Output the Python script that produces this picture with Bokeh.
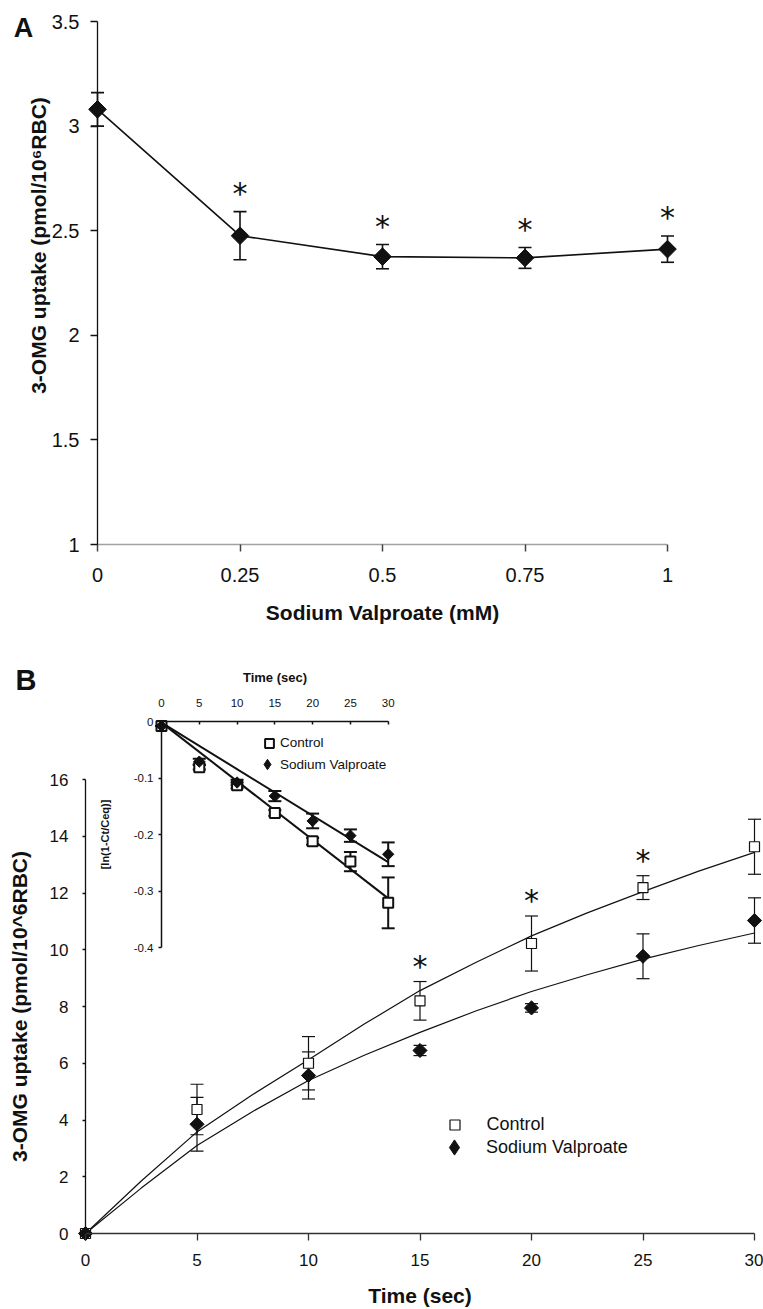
import math
from bokeh.plotting import figure
from bokeh.layouts import column
from bokeh.models import (ColumnDataSource, Whisker, TeeHead, Label, Legend, LegendItem,
                          FixedTicker, NumeralTickFormatter, Range1d, LinearAxis)
from bokeh.core.properties import value
from bokeh.embed import file_html
from bokeh.resources import INLINE

# ---------------- Panel A data ----------------
conc_mM = [0, 0.25, 0.5, 0.75, 1.0]
uptake_A = [3.08, 2.476, 2.376, 2.37, 2.412]
sem_A = [0.08, 0.115, 0.058, 0.05, 0.063]
sig_A = [False, True, True, True, True]
ticks_A_x = [0, 0.25, 0.5, 0.75, 1]
ticks_A_y = [1, 1.5, 2, 2.5, 3, 3.5]

# ---------------- Panel B data ----------------
time_s = [0, 5, 10, 15, 20, 25, 30]
ctrl_B = [0, 4.37, 6.0, 8.2, 10.22, 12.19, 13.63]
ctrl_B_err = [0, 0.89, 0.94, 0.68, 0.97, 0.42, 0.97]
vpa_B = [0, 3.85, 5.57, 6.45, 7.95, 9.77, 11.03]
vpa_B_err = [0, 0.95, 0.83, 0.18, 0.15, 0.79, 0.80]
sig_B = [False, False, False, True, True, True, False]
fit_t = [0, 2.5, 5, 7.5, 10, 12.5, 15, 17.5, 20, 22.5, 25, 27.5, 30]
ctrl_fit = [0, 1.85, 3.58, 4.9, 6.12, 7.38, 8.56, 9.55, 10.49, 11.3, 12.05, 12.77, 13.43]
vpa_fit = [0, 1.6, 3.1, 4.3, 5.39, 6.28, 7.09, 7.84, 8.53, 9.12, 9.67, 10.15, 10.59]
ticks_B_x = [0, 5, 10, 15, 20, 25, 30]
ticks_B_y = [0, 2, 4, 6, 8, 10, 12, 14, 16]

# ---------------- Inset data ----------------
inset_ctrl = [-0.008, -0.081, -0.113, -0.162, -0.212, -0.248, -0.321]
inset_ctrl_err = [0, 0.004, 0.005, 0.005, 0.006, 0.017, 0.045]
inset_vpa = [-0.008, -0.071, -0.108, -0.132, -0.176, -0.202, -0.235]
inset_vpa_err = [0, 0.005, 0.005, 0.009, 0.013, 0.011, 0.021]
inset_fit_t = [0, 30]
inset_ctrl_fit = [-0.002, -0.313]
inset_vpa_fit = [-0.002, -0.249]
ticks_I_x = [0, 5, 10, 15, 20, 25, 30]
ticks_I_y = [-0.4, -0.3, -0.2, -0.1, 0]

SANS = "Liberation Sans"
ROT45 = math.pi / 4
INK = "#111111"

W = 763
HA, HB = 633, 676
TOP_A, TOP_B = 0, HA  # page y of each canvas top
LEFT = 0


def span(anchor_px, anchor_val, px_per_unit, lo_px, hi_px, flip=False):
    """Range covering canvas pixels lo..hi, given one pixel anchor and a pixel scale."""
    if flip:
        return Range1d(anchor_val + (anchor_px - hi_px) / px_per_unit,
                       anchor_val + (anchor_px - lo_px) / px_per_unit)
    return Range1d(anchor_val + (lo_px - anchor_px) / px_per_unit,
                   anchor_val + (hi_px - anchor_px) / px_per_unit)


def base_fig(width, height, xr, yr):
    p = figure(width=width, height=height, x_range=xr, y_range=yr,
               x_axis_location=None, y_axis_location=None, min_border=0,
               output_backend="svg", toolbar_location=None)
    p.xgrid.visible = False
    p.ygrid.visible = False
    p.outline_line_color = None
    return p


def make_axis(p, side, loc, bounds, ticks, size, tick_out, tick_in, standoff,
              color=INK, width=1.3, **kw):
    ax = LinearAxis(fixed_location=loc, bounds=bounds, ticker=FixedTicker(ticks=ticks), **kw)
    ax.axis_line_color = color
    ax.axis_line_width = width
    ax.major_tick_line_color = color
    ax.major_tick_line_width = width
    ax.major_tick_out = tick_out
    ax.major_tick_in = tick_in
    ax.minor_tick_line_color = None
    ax.major_label_text_font = SANS
    ax.major_label_text_font_size = size
    ax.major_label_text_color = INK
    ax.major_label_standoff = standoff
    ax.axis_label_text_font_style = "bold"
    ax.axis_label_text_font = SANS
    ax.axis_label_text_color = INK
    p.add_layout(ax, side)
    return ax


def errbars(p, x, y, err, head, lw, **kw):
    src = ColumnDataSource(dict(x=x, upper=[a + b for a, b in zip(y, err)],
                                lower=[a - b for a, b in zip(y, err)]))
    w = Whisker(source=src, base="x", upper="upper", lower="lower",
                line_color=INK, line_width=lw,
                upper_head=TeeHead(size=head, line_color=INK, line_width=lw),
                lower_head=TeeHead(size=head, line_color=INK, line_width=lw), **kw)
    p.add_layout(w)


def stars(p, x, y, err, sig, size, yoff):
    xs = [a for a, s in zip(x, sig) if s]
    ys = [a + b for a, b, s in zip(y, err, sig) if s]
    p.text(x=xs, y=ys, text=["*"] * len(xs), text_font=value("DejaVu Sans"),
           text_font_size=size, text_align="center", text_baseline="alphabetic",
           y_offset=yoff, text_color=INK)


def one_item_legend(p, label, renderer, vx, vy, glyph, standoff, font_size):
    leg = Legend(items=[LegendItem(label=label, renderers=[renderer])],
                 location=(vx, vy), glyph_width=glyph, glyph_height=glyph,
                 label_standoff=standoff, label_height=glyph, spacing=0, padding=0, margin=0,
                 label_text_font=SANS, label_text_font_size=font_size, label_text_color=INK,
                 border_line_color=None, background_fill_alpha=0,
                 inactive_fill_alpha=0, click_policy="none")
    p.add_layout(leg)


# ================= Panel A =================
# page geometry: x=0 at px 97, x=1 at px 667; y=1 at px 544, y=3.5 at px 21
xA = span(97, 0.0, 570.0, LEFT, LEFT + W)
yA = span(544, 1.0, 523.0 / 2.5, TOP_A, TOP_A + HA, flip=True)
pA = base_fig(W, HA, xA, yA)
axAx = make_axis(pA, "below", 1.0, (0, 1), ticks_A_x, "20px", 7, 0, 16, color="#444444", width=1.5)
axAx.axis_line_dash = "1 1"
axAx.formatter = NumeralTickFormatter(format="0.[00]")
axAx.axis_label = "Sodium Valproate (mM)"
axAx.axis_label_text_font_size = "21px"
axAx.axis_label_standoff = 16
axAy = make_axis(pA, "left", 0.0, (1, 3.5), ticks_A_y, "20px", 7, 0, 11)
axAy.formatter = NumeralTickFormatter(format="0.[0]")

errbars(pA, conc_mM, uptake_A, sem_A, 13, 1.6)
pA.line(conc_mM, uptake_A, line_color=INK, line_width=1.6)
pA.scatter(conc_mM, uptake_A, marker="square", angle=ROT45, size=12.5,
           fill_color=INK, line_color=INK)
stars(pA, conc_mM, uptake_A, sem_A, sig_A, "30px", -18)

pA.add_layout(Label(x=-0.147, y=3.4713, text="A", text_font=SANS, text_font_size="27px",
                    text_font_style="bold", text_baseline="alphabetic", text_color=INK))
pA.add_layout(Label(x=-0.1035, y=2.4293, text="3-OMG uptake (pmol/10\u2076RBC)", angle=math.pi / 2,
                    text_font=SANS, text_font_size="21px", text_font_style="bold",
                    text_align="center", text_baseline="middle", text_color=INK))

# ================= Panel B =================
# page geometry: t=0 at px 85, t=30 at px 754; y=0 at px 1233, y=16 at px 779
xB = span(85, 0.0, 669.0 / 30, LEFT, LEFT + W)
yB = span(1233, 0.0, 454.0 / 16, TOP_B, TOP_B + HB, flip=True)
pB = base_fig(W, HB, xB, yB)
axBx = make_axis(pB, "below", 0.0, (0, 30), ticks_B_x, "17px", 7, 0, 13, color="#333333")
axBx.axis_label = "Time (sec)"
axBx.axis_label_text_font_size = "21px"
axBx.axis_label_standoff = 15
axBy = make_axis(pB, "left", 0.0, (0, 16), ticks_B_y, "17px", 3, 0, 14)
axBy.axis_label = "3-OMG uptake (pmol/10^6RBC)"
axBy.axis_label_text_font_size = "21px"
axBy.axis_label_standoff = 16

pB.line(fit_t, ctrl_fit, line_color=INK, line_width=1.2)
pB.line(fit_t, vpa_fit, line_color=INK, line_width=1.2)
errbars(pB, time_s, ctrl_B, ctrl_B_err, 13, 1.2)
errbars(pB, time_s, vpa_B, vpa_B_err, 13, 1.2)
rB_ctrl = pB.scatter(time_s, ctrl_B, marker="square", size=10, fill_color="white",
                     line_color=INK, line_width=1.2)
rB_vpa = pB.scatter(time_s, vpa_B, marker="square", angle=ROT45, size=10,
                    fill_color=INK, line_color=INK)
stars(pB, time_s, ctrl_B, ctrl_B_err, sig_B, "30px", -15)
pB.add_layout(Label(x=-3.139, y=19.489, text="B", text_font=SANS, text_font_size="29px",
                    text_font_style="bold", text_baseline="alphabetic", text_color=INK))

# legend keys: legend markers are drawn unrotated, so the diamond key comes from a hidden
# copy of the same series drawn with the diamond marker
keyB_vpa = pB.scatter(time_s, vpa_B, marker="diamond", fill_color=INK, line_color=INK,
                      visible=False)
one_item_legend(pB, "Control", rB_ctrl, 441.5, 172.5, 25, 20, "18px")
one_item_legend(pB, "Sodium Valproate", keyB_vpa, 435, 143, 38, 13, "18px")

# ================= Inset (inside panel B, own ranges) =================
# page geometry: t=0 at px 161, t=30 at px 387.7; y=0 at px 721, y=-0.4 at px 947
pB.extra_x_ranges = {"ix": span(161, 0.0, 226.7 / 30, LEFT, LEFT + W)}
pB.extra_y_ranges = {"iy": span(721, 0.0, 226.0 / 0.4, TOP_B, TOP_B + HB, flip=True)}
IR = dict(x_range_name="ix", y_range_name="iy")
axIx = make_axis(pB, "above", 0.0, (0, 30), ticks_I_x, "11.5px", 0, 3, 15, width=1.5, **IR)
axIx.axis_label = "Time (sec)"
axIx.axis_label_text_font_size = "13px"
axIx.axis_label_standoff = 11
axIy = make_axis(pB, "left", 0.0, (-0.4, 0), ticks_I_y, "11.5px", 3, 0, 5, width=1.5, **IR)
axIy.formatter = NumeralTickFormatter(format="0.[0]")
axIy.axis_label = "[ln(1-Ct/Ceq)]"
axIy.axis_label_text_font_size = "11px"
axIy.axis_label_standoff = 20

pB.line(inset_fit_t, inset_ctrl_fit, line_color=INK, line_width=2, **IR)
pB.line(inset_fit_t, inset_vpa_fit, line_color=INK, line_width=2, **IR)
errbars(pB, time_s, inset_ctrl, inset_ctrl_err, 13, 2, **IR)
errbars(pB, time_s, inset_vpa, inset_vpa_err, 13, 2, **IR)
rI_ctrl = pB.scatter(time_s, inset_ctrl, marker="square", size=10, fill_color="white",
                     line_color=INK, line_width=2, **IR)
rI_vpa = pB.scatter(time_s, inset_vpa, marker="square", angle=ROT45, size=8,
                    fill_color=INK, line_color=INK, **IR)
keyI_vpa = pB.scatter(time_s, inset_vpa, marker="diamond", fill_color=INK, line_color=INK,
                      visible=False, **IR)
one_item_legend(pB, "Control", rI_ctrl, 258, 555.3, 22, 0, "13.5px")
one_item_legend(pB, "Sodium Valproate", keyI_vpa, 254, 532, 26, 0, "13.5px")

layout = column(pA, pB, spacing=0)

open("out.html", "w").write(file_html(layout, INLINE))
